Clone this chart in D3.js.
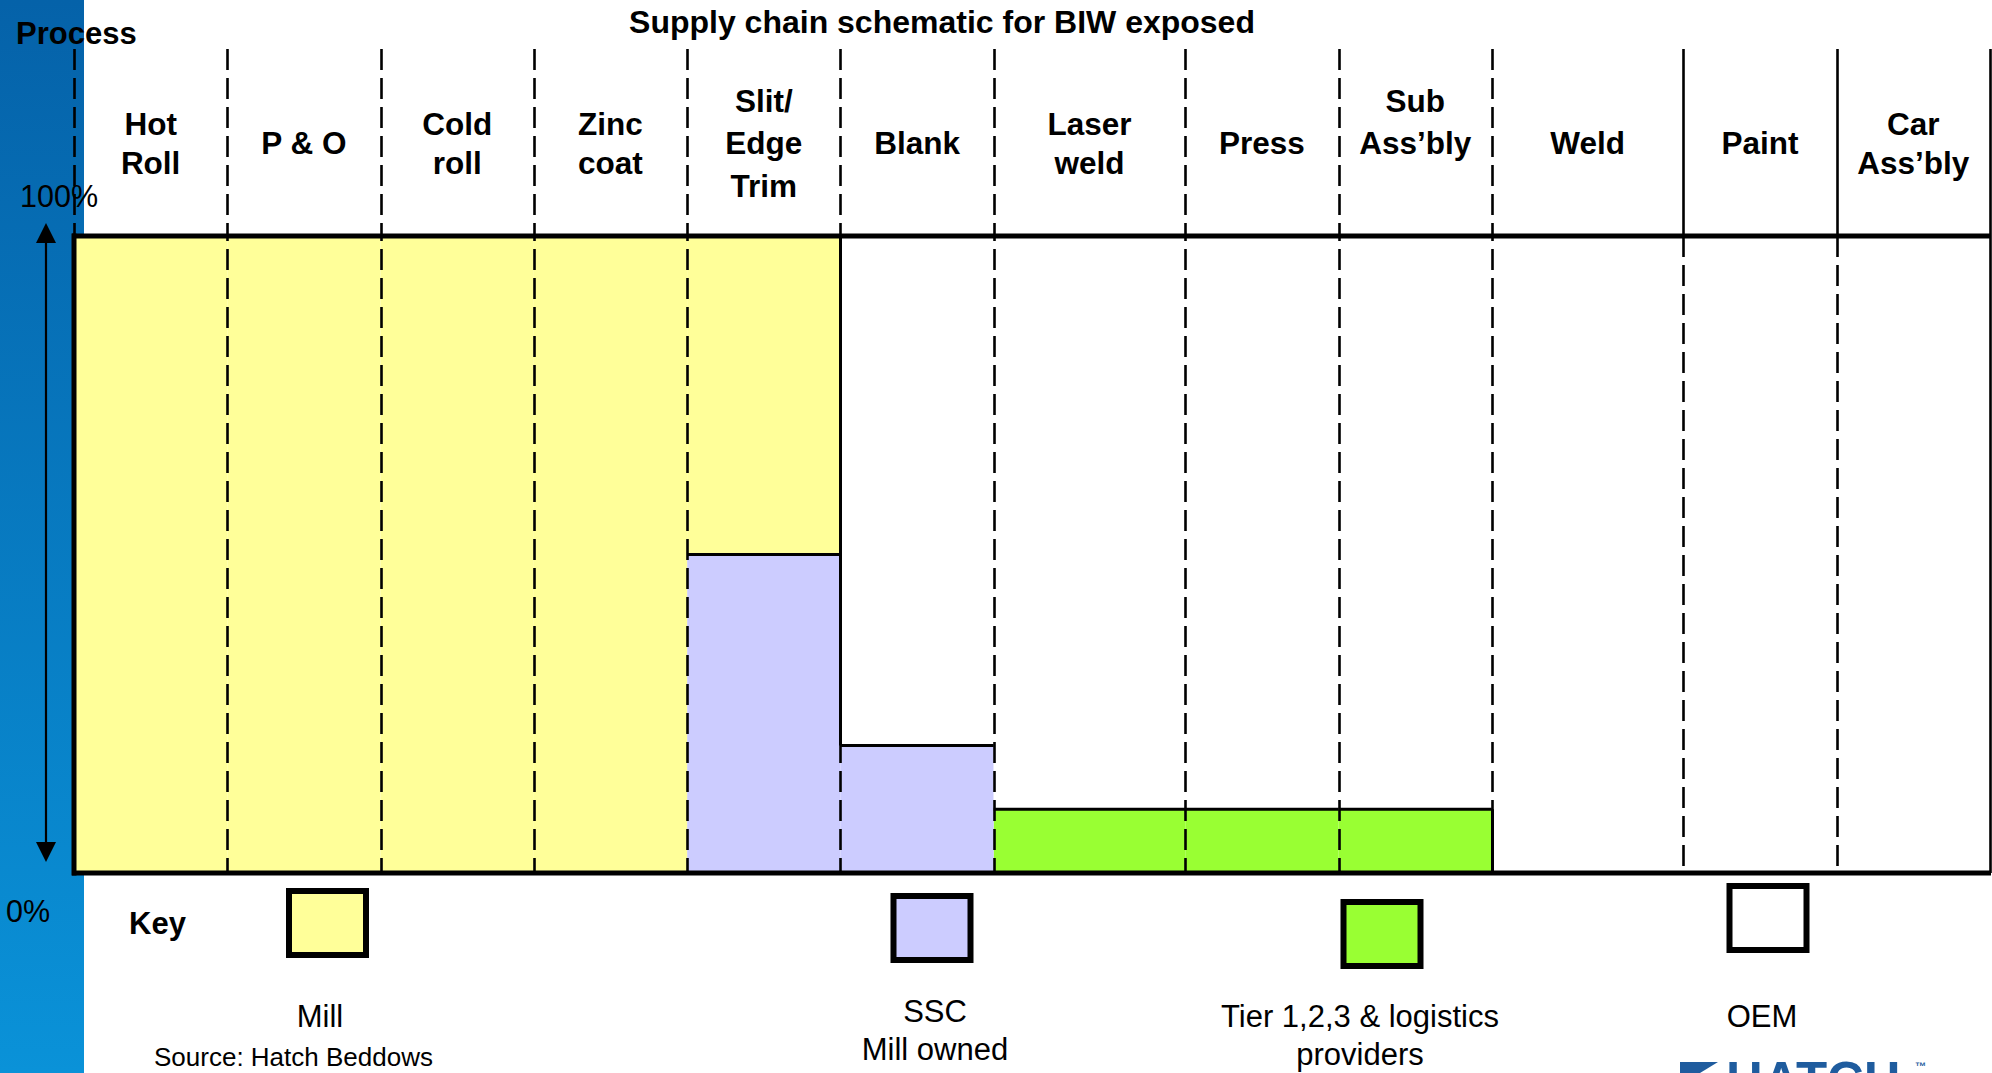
<!DOCTYPE html>
<html>
<head>
<meta charset="utf-8">
<script src="https://cdn.jsdelivr.net/npm/d3@7"></script>
<style>
  html, body { margin: 0; padding: 0; background: #fff; overflow: hidden; }
  svg { display: block; }
  text { font-family: "Liberation Sans", Arial, Helvetica, sans-serif; fill: #000; }
</style>
</head>
<body>
<svg id="chart" width="1992" height="1073"></svg>
<script>
// Process steps along the BIW supply chain (one column each, label lines)
const processes = [
  ["Hot", "Roll"], ["P & O"], ["Cold", "roll"], ["Zinc", "coat"],
  ["Slit/", "Edge", "Trim"], ["Blank"], ["Laser", "weld"], ["Press"],
  ["Sub", "Ass’bly", ""], ["Weld"], ["Paint"], ["Car", "Ass’bly"]
];

// Share of each process step performed by each party (%)
const tierShare = [0, 0, 0, 0, 0, 0, 10, 10, 10, 0, 0, 0];
const sscShare  = [0, 0, 0, 0, 50, 20, 0, 0, 0, 0, 0, 0];
const millShare = [100, 100, 100, 100, 50, 0, 0, 0, 0, 0, 0, 0];
const oemShare  = [0, 0, 0, 0, 0, 80, 90, 90, 90, 100, 100, 100];

// Legend entries
const keyNames  = ["Mill", "SSC", "Tier", "OEM"];
const keyLabels = [["Mill"], ["SSC", "Mill owned"], ["Tier 1,2,3 & logistics", "providers"], ["OEM"]];

// Axis end labels
const yTickValues = [100, 0];
const yTickLabels = ["100%", "0%"];

const title = "Supply chain schematic for BIW exposed";
const sourceNote = "Source: Hatch Beddows";

// ---- layout ----
const W = 1992, H = 1073;
const plotL = 74, plotR = 1990, plotT = 236, plotB = 873, headerTop = 49;
// relative column widths (the two welding columns are wider)
const colSpan = [1, 1, 1, 1, 1, 1, 1.25, 1, 1, 1.25, 1, 1];
const colors = { Mill: "#FFFF99", SSC: "#CCCCFF", Tier: "#99FF33", OEM: "#FFFFFF" };

const svg = d3.select("#chart");

// left blue band
const defs = svg.append("defs");
const grad = defs.append("linearGradient").attr("id", "band")
  .attr("x1", 0).attr("y1", 0).attr("x2", 0).attr("y2", 1);
grad.append("stop").attr("offset", "0%").attr("stop-color", "#0562a9");
grad.append("stop").attr("offset", "100%").attr("stop-color", "#0a92d8");
svg.append("rect").attr("x", 0).attr("y", 0).attr("width", 84).attr("height", H)
  .attr("fill", "url(#band)");

// scales
const cum = [0];
colSpan.forEach(s => cum.push(cum[cum.length - 1] + s));
const x = d3.scaleLinear().domain([0, cum[cum.length - 1]]).range([plotL, plotR]);
const y = d3.scaleLinear().domain([0, 100]).range([plotB, plotT]);

// stacked data
const rows = processes.map((p, i) => ({
  i, Tier: tierShare[i], SSC: sscShare[i], Mill: millShare[i], OEM: oemShare[i]
}));
const stackKeys = ["Tier", "SSC", "Mill", "OEM"];
const stacked = d3.stack().keys(stackKeys)(rows);

// fills
const gFill = svg.append("g");
stacked.forEach(layer => {
  gFill.selectAll(null).data(layer.filter(d => d[1] > d[0])).enter()
    .append("rect")
    .attr("x", d => x(cum[d.data.i]))
    .attr("y", d => y(d[1]))
    .attr("width", d => x(cum[d.data.i + 1]) - x(cum[d.data.i]))
    .attr("height", d => y(d[0]) - y(d[1]))
    .attr("fill", colors[layer.key]);
});

// column boundaries
const gGrid = svg.append("g").attr("stroke", "#000").attr("stroke-width", 2.6);
const dash = "21 8";
cum.forEach((c, b) => {
  const xb = Math.round(x(c)) + 0.5;
  const last = cum.length - 1;
  if (b === last) {
    gGrid.append("line").attr("x1", xb).attr("x2", xb).attr("y1", headerTop).attr("y2", plotB);
    return;
  }
  // header part
  const headerSolid = b >= 10;
  gGrid.append("line").attr("x1", xb).attr("x2", xb).attr("y1", headerTop).attr("y2", plotT)
    .attr("stroke-dasharray", headerSolid ? null : dash);
  // plot part
  if (b > 0) {
    gGrid.append("line").attr("x1", xb).attr("x2", xb).attr("y1", plotT).attr("y2", plotB)
      .attr("stroke-dasharray", dash)
      .attr("stroke-dashoffset", headerSolid ? 0 : -(plotT - headerTop));
  }
});

// outlines of coloured segments: top edges, plus the right-hand step where
// a column hands over to the white (OEM-only) area
const colored = stackKeys.filter(k => k !== "OEM");
const gEdge = svg.append("g").attr("stroke", "#000").attr("stroke-width", 3).attr("fill", "none");
stacked.filter(l => l.key !== "OEM").forEach(layer => {
  layer.filter(d => d[1] > d[0]).forEach(d => {
    const i = d.data.i;
    gEdge.append("line")
      .attr("x1", x(cum[i])).attr("x2", x(cum[i + 1]))
      .attr("y1", y(d[1])).attr("y2", y(d[1]));
  });
});
const totals = rows.map(r => d3.sum(colored, k => r[k]));
totals.forEach((t, i) => {
  if (i < totals.length - 1 && t > totals[i + 1] && rows[i].OEM === 0 || (i < totals.length - 1 && totals[i + 1] === 0 && t > 0)) {
    const xb = Math.round(x(cum[i + 1])) + 0.5;
    gEdge.append("line").attr("x1", xb).attr("x2", xb)
      .attr("y1", y(t)).attr("y2", y(totals[i + 1]));
  }
});

// heavy frame: top, left, bottom
const gFrame = svg.append("g").attr("stroke", "#000").attr("stroke-width", 5).attr("fill", "none");
gFrame.append("line").attr("x1", plotL - 2).attr("x2", plotR + 1).attr("y1", y(100)).attr("y2", y(100));
gFrame.append("line").attr("x1", plotL - 2).attr("x2", plotR + 1).attr("y1", y(0)).attr("y2", y(0));
gFrame.append("line").attr("x1", plotL).attr("x2", plotL).attr("y1", y(100) - 2.5).attr("y2", y(0) + 2.5);

// process labels
const gLab = svg.append("g").attr("font-weight", "bold").attr("font-size", 31.5)
  .attr("text-anchor", "middle");
processes.forEach((lines, i) => {
  const cx = (x(cum[i]) + x(cum[i + 1])) / 2;
  const n = lines.length;
  const gap = n === 3 ? 42.5 : 39;
  const b0 = 154 - (n - 1) * gap / 2;
  lines.forEach((t, j) => {
    if (!t) return;
    gLab.append("text").attr("x", cx).attr("y", b0 + j * gap).text(t);
  });
});

// title and corner label
svg.append("text").attr("x", 942).attr("y", 33).attr("text-anchor", "middle")
  .attr("font-weight", "bold").attr("font-size", 32).text(title);
svg.append("text").attr("x", 16).attr("y", 44)
  .attr("font-weight", "bold").attr("font-size", 31).text("Process");

// axis end labels and double arrow
svg.append("text").attr("x", 20).attr("y", y(yTickValues[0]) - 29)
  .attr("font-size", 30.5).text(yTickLabels[0]);
svg.append("text").attr("x", 6).attr("y", y(yTickValues[1]) + 49)
  .attr("font-size", 30.5).text(yTickLabels[1]);

const ax = 46, aTop = y(100) - 13, aBot = y(0) - 11, hw = 10, hl = 20;
svg.append("line").attr("x1", ax).attr("x2", ax).attr("y1", aTop + hl - 2).attr("y2", aBot - hl + 2)
  .attr("stroke", "#000").attr("stroke-width", 2.2);
svg.append("path").attr("d", `M${ax},${aTop} L${ax - hw},${aTop + hl} L${ax + hw},${aTop + hl} Z`).attr("fill", "#000");
svg.append("path").attr("d", `M${ax},${aBot} L${ax - hw},${aBot - hl} L${ax + hw},${aBot - hl} Z`).attr("fill", "#000");

// key
svg.append("text").attr("x", 129).attr("y", 934)
  .attr("font-weight", "bold").attr("font-size", 31).text("Key");

const keyBox = [
  { cx: 327.5, top: 891, tx: 320, ty: 1027 },
  { cx: 932, top: 896, tx: 935, ty: 1022 },
  { cx: 1382, top: 902, tx: 1360, ty: 1027 },
  { cx: 1768, top: 886, tx: 1762, ty: 1027 }
];
const gKey = svg.append("g");
keyNames.forEach((k, i) => {
  const L = keyBox[i];
  gKey.append("rect").attr("x", L.cx - 38.5).attr("y", L.top).attr("width", 77).attr("height", 64)
    .attr("fill", colors[k]).attr("stroke", "#000").attr("stroke-width", 6);
  keyLabels[i].forEach((t, j) => {
    gKey.append("text").attr("x", L.tx).attr("y", L.ty + j * 38)
      .attr("text-anchor", "middle").attr("font-size", 31).text(t);
  });
});

// source note
svg.append("text").attr("x", 154).attr("y", 1066).attr("font-size", 26).text(sourceNote);

// company mark
const gLogo = svg.append("g").attr("fill", "#1f5c9e");
gLogo.append("path").attr("d", "M1680,1062 L1718,1062 L1700,1073 L1680,1073 Z");
gLogo.append("text").attr("x", 1726).attr("y", 1098).attr("font-size", 51)
  .attr("font-weight", "bold").style("fill", "#1f5c9e").text("HATCH");
gLogo.append("text").attr("x", 1915).attr("y", 1070).attr("font-size", 11)
  .attr("font-weight", "bold").style("fill", "#1f5c9e").text("™");
</script>
</body>
</html>
